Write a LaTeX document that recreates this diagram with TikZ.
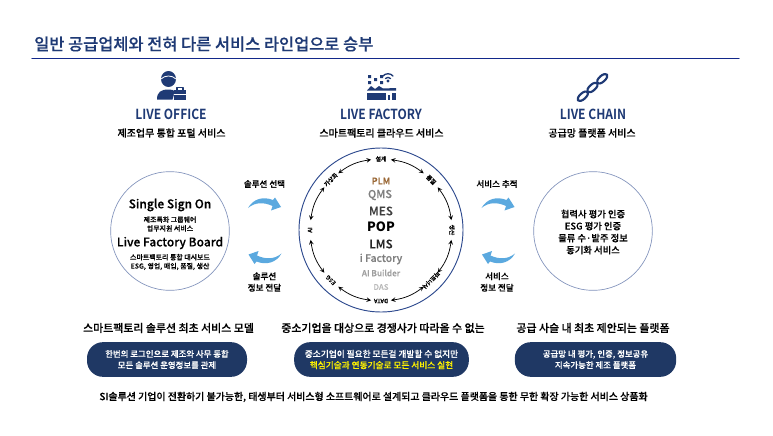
\documentclass[tikz,border=0pt]{standalone}
\usepackage{fontspec}
\setmainfont{Noto Sans CJK KR}
\newfontfamily\midfont[FakeBold=0.3]{Noto Sans CJK KR Medium}
\newfontfamily\headfont[FakeStretch=0.87]{Noto Sans CJK KR Bold}
\usetikzlibrary{arrows, calc}
\definecolor{navy}{HTML}{1F3A75}
\definecolor{boxblue}{HTML}{1F3864}
\definecolor{ruleblue}{HTML}{12288A}
\definecolor{ringblue}{HTML}{2F4B8F}
\definecolor{softblue}{HTML}{5BA9DF}
\newcommand{\fs}[2]{\fontsize{#1}{#2}\selectfont}
\tikzset{
  head/.style={text=navy,font=\headfont\fs{10.4}{12}},
  sub/.style={font=\midfont\fs{7.5}{9}},
  lead/.style={font=\midfont\fs{8.2}{10}},
  small/.style={font=\midfont\fs{6.4}{8.6},align=center},
  tiny/.style={font=\midfont\fs{5.2}{6.6},align=center},
  brand/.style={font=\midfont\fs{9}{10}},
  bubble/.style={circle,draw=ringblue!60,line width=0.5pt,minimum size=89pt,inner sep=0pt},
  pill/.style={rounded corners=12pt,fill=boxblue,minimum height=26pt,align=center,text=white,font=\midfont\fs{6.3}{8.4}},
  stepname/.style={font=\midfont\fs{4.4}{5}},
  stepline/.style={<->,>=stealth,line width=0.55pt}
}
\newcommand{\turnshape}{
  \fill[softblue] (248,208) .. controls (253,199) and (263,196) .. (273,200) -- (275,197.5) -- (281,207) -- (271,210.5) -- (272.5,206) .. controls (264,202) and (255,202) .. (248,208) -- cycle;
}
\begin{document}
\begin{tikzpicture}[line cap=round,line join=round,x=0.75pt,y=-0.75pt]
\useasboundingbox (0,0) rectangle (773,435);
\fill[white] (0,0) rectangle (773,435);

% title
\node[anchor=west,inner sep=0pt,text=navy,font=\midfont\fs{12.3}{14}] (title) at (34,44) {일반 공급업체와 전혀 다른 서비스 라인업으로 승부};
\coordinate (ruleL) at (32,58.5);
\coordinate (ruleR) at (739,58.5);
\draw[ruleblue,line width=0.9pt] (ruleL) -- (ruleR);

% icons
\fill[navy] (168.5,79) ellipse (7.5 and 8);
\draw[white,line width=0.6pt] (161,79) .. controls (165,75) and (172,75) .. (176,79);
\fill[navy] (157,99.5) .. controls (157,92) and (161,89.5) .. (168.5,89.5) .. controls (171,89.5) and (173,90) .. (175,91) -- (172.5,99.5) -- cycle;
\fill[navy] (174,90) rectangle (186,99.5);
\draw[navy,line width=0.8pt] (177,90) -- (177,87.5) -- (183,87.5) -- (183,90);
\draw[white,line width=0.4pt] (174,94) -- (186,94);
\fill[navy] (367,90.5) -- (371,86) -- (375,89) -- (379,86) -- (383,88.5) -- (396,88) -- (396,90.5) -- cycle;
\fill[navy] (367,92.5) rectangle (396,100);
\fill[white] (386,93) rectangle (392,100);
\fill[navy] (388,95) rectangle (390,100);
\fill[navy] (368,75) rectangle (371,78) (368,81) rectangle (371,84) (374,78) rectangle (377,81) (380,75) rectangle (383,78) (380,81) rectangle (383,84);
\fill[navy] (388,81) circle (1.6);
\draw[navy,line width=1pt] (383,76) .. controls (385.5,73) and (390.5,73) .. (393,76);
\draw[navy,line width=1pt] (385.5,78.5) .. controls (387,77) and (389,77) .. (390.5,78.5);
\begin{scope}[shift={(592.5,87.5)},rotate=42]
\draw[navy,line width=1.6pt] (-13,0) ellipse (6.5 and 3) (0,0) ellipse (6.5 and 3) (13,0) ellipse (6.5 and 3);
\end{scope}

% headers
\node[head] (office) at (171,114) {LIVE OFFICE};
\node[head] (factory) at (381,114) {LIVE FACTORY};
\node[head] (chain) at (593,114) {LIVE CHAIN};
\node[sub] (officeSub) at (171.5,133) {제조업무 통합 포털 서비스};
\node[sub] (factorySub) at (381.5,133) {스마트팩토리 클라우드 서비스};
\node[sub] (chainSub) at (592,133) {공급망 플랫폼 서비스};

% left and right bubbles
\node[bubble] (left) at (170,231) {};
\node[bubble] (right) at (593,231) {};
\node[brand] (sso) at (170,205) {Single Sign On};
\node[tiny] (ssoSub) at (170,224) {제조특화 그룹웨어\\업무지원 서비스};
\node[brand] (lfb) at (170,243) {Live Factory Board};
\node[tiny] (lfbSub) at (170,262) {스마트팩토리 통합 대시보드\\ESG, 영업, 매입, 품질, 생산};
\node[small,font=\midfont\fs{7}{9}] (rightText) at (593,232) {협력사 평가 인증\\ESG 평가 인증\\물류 수·발주 정보\\동기화 서비스};

% centre ring
\node[circle,draw=ringblue,line width=0.7pt,minimum size=123pt,inner sep=0pt] (ring) at (381,230) {};
\coordinate (hub) at (381,230);
\foreach \ang/\txt in {90/설계,45/품질,0/생산,-45/파트너사,-90/DATA,-135/ESG,180/AI,135/가상화}
  \node[stepname,rotate=\ang-90] at ($(hub)+(\ang:71 and -71)$) {\txt};
\foreach \from/\to in {82/53,37/8,-8/-37,-53/-82,-98/-127,-143/-172,172/143,127/98}
  \draw[stepline] ($(hub)+(\from:71 and -71)$) to[bend left=14.5] ($(hub)+(\to:71 and -71)$);
\node[font=\midfont\fs{6.8}{8},text=brown!80!black] (plm) at (381,181) {PLM};
\node[font=\midfont\fs{8.2}{9},text=gray] (qms) at (380,195) {QMS};
\node[font=\midfont\fs{8.8}{10},text=black!75] (mes) at (381,211) {MES};
\node[font=\fs{9.6}{11}\bfseries] (pop) at (381,227) {POP};
\node[font=\midfont\fs{8.8}{10},text=black!85] (lms) at (381,244) {LMS};
\node[font=\midfont\fs{7.8}{9},text=gray] (ifac) at (381,259) {i Factory};
\node[font=\midfont\fs{6.2}{7},text=gray!75] (aib) at (381,273) {AI Builder};
\node[font=\midfont\fs{5.8}{7},text=gray!55] (das) at (381,287) {DAS};

% flow labels
\node[small] (pick) at (264.5,184) {솔루션 선택};
\node[small] (pickInfo) at (264.5,282) {솔루션\\정보 전달};
\node[small] (track) at (497,184) {서비스 추적};
\node[small] (trackInfo) at (497,282) {서비스\\정보 전달};
\turnshape
\begin{scope}[shift={(529.5,461.5)},rotate=180]
\turnshape
\end{scope}
\begin{scope}[shift={(233.5,0)}]
\turnshape
\end{scope}
\begin{scope}[shift={(763,461.5)},rotate=180]
\turnshape
\end{scope}

% bottom
\node[lead] (leadL) at (168.5,328) {스마트팩토리 솔루션 최초 서비스 모델};
\node[lead] (leadM) at (383,328) {중소기업을 대상으로 경쟁사가 따라올 수 없는};
\node[lead] (leadR) at (593,328) {공급 사슬 내 최초 제안되는 플랫폼};
\node[pill,minimum width=120pt] (pillL) at (167,359.5) {한번의 로그인으로 제조와 사무 통합\\모든 솔루션 운영정보를 관제};
\node[pill,minimum width=131pt,font=\midfont\fs{6.5}{8.4}] (pillM) at (381.5,359.5) {중소기업이 필요한 모든걸 개발할 수 없지만\\\textcolor{yellow}{핵심기술과 연동기술로 모든 서비스 실현}};
\node[pill,minimum width=121pt] (pillR) at (595.5,359.5) {공급망 내 평가, 인증, 정보공유\\지속가능한 제조 플랫폼};
\node[font=\midfont\fs{7.45}{9}] (foot) at (373.5,397) {SI솔루션 기업이 전환하기 불가능한, 태생부터 서비스형 소프트웨어로 설계되고 클라우드 플랫폼을 통한 무한 확장 가능한 서비스 상품화};
\end{tikzpicture}
\end{document}
